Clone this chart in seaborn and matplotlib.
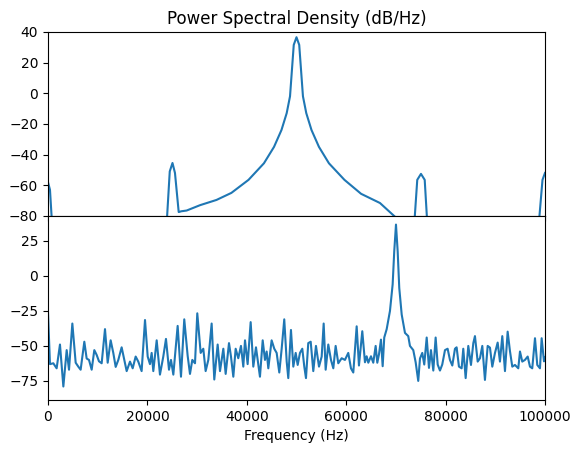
import numpy as np
import pandas as pd
import matplotlib
matplotlib.use('Agg')
import matplotlib.pyplot as plt
import seaborn as sns

# Top panel: clean tone spectrum (-95 = below the axis)
top_freq = [0, 400, 1000, 23700, 24500, 25050, 25550, 26300, 26800, 27900,
            30600, 33900, 36900, 40350, 43450, 45480, 46980, 48030, 48700,
            49450, 50000, 50550, 51300, 51970, 53020, 54520, 56530, 59650, 63000,
            66800, 69800, 70500, 73500, 74300, 75050, 75800, 76500, 98500, 99500, 100000]
top_db = [-58, -63, -95, -95, -51, -45.5, -52, -77.5, -77, -76.5,
          -73, -69.6, -65, -56.5, -45.7, -35, -24, -13, -2,
          31.5, 36.5, 31.5, -2, -13, -24, -35, -45.7, -56.5, -65.6,
          -71.6, -80.5, -95, -95, -56.5, -52.6, -56.5, -95, -95, -56.5, -52]

# Bottom panel: noisy signal spectrum
bot_freq = [0, 400, 1070, 1740, 2410, 3090, 3760, 4230, 4900, 5570,
            6100, 6570, 7310, 7780, 8250, 8790, 9320, 9790, 10260, 10800,
            11470, 12010, 12610, 13140, 13620, 14150, 14820, 15290, 15830, 16500,
            17040, 17640, 18170, 18840, 19520,
            20060, 20520, 20860, 21190, 21870, 22530, 23200, 23740, 24350, 24750,
            25220, 25550, 26090, 26760, 27420, 28100, 28570, 29040, 29580, 30040,
            30720, 31250, 31720, 32260, 32930, 33460, 34140, 34610, 35280, 35750,
            36420, 36820, 37290, 37760, 38290, 38830, 39300, 39640,
            40170, 40780, 41310, 41850, 42190, 42650, 43200, 43660, 44000, 44330,
            45000, 45530, 46010, 46540, 47020, 47540, 48030, 48350, 48890, 49360,
            49840, 50240, 50700, 51170, 51570, 51910, 52370, 52860, 53380, 53920,
            54530, 55070, 55470, 55870, 56400, 56940, 57410, 57880, 58410, 59090,
            59750, 60420,
            60960, 61430, 62110, 62570, 63240, 63780, 64120, 64450, 64990, 65450,
            65930, 66260, 66600, 67000, 67340, 67660, 68150, 68810, 69350, 69670,
            70020, 70360, 70680, 71170, 71830, 72490, 72830, 73500, 73980, 74500,
            74850, 75310, 75710, 76200, 76660, 77060, 77530, 78000, 78410, 78870,
            79330, 79880,
            80410, 80880, 81350, 81890, 82220, 82690, 83230, 83560, 84040, 84570,
            85110, 85580, 85910, 86460, 86920, 87390, 87920, 88470, 88930, 89400,
            89940, 90480, 90940, 91410, 91950, 92490, 92950, 93420, 93960, 94630,
            94970, 95430, 95970, 96520, 96980, 97440, 97990, 98450, 98990, 99330,
            99800, 100000]
bot_db = [-26, -63, -62.4, -66, -49, -79, -53, -67, -34, -62,
          -64.8, -67, -47, -59, -60, -67, -53, -56.4, -61, -62.4,
          -38, -62, -46, -55, -65, -60, -51, -58.8, -68, -61.2,
          -66, -57.6, -61.2, -68, -31.5,
          -57.6, -63, -55, -68, -46, -70.5, -57.6, -45, -67, -60,
          -70.5, -57.6, -35.7, -72, -31, -57, -70, -60, -62.4, -26.7,
          -55, -52, -68, -60, -34, -74, -49, -68, -52, -70,
          -48, -57.6, -72, -52, -58.8, -50, -64.8, -46,
          -63, -33, -64.8, -51, -60, -72, -46, -60, -54, -66,
          -46, -52, -55, -69, -52, -31, -61.2, -73, -38.6, -64.8,
          -55, -63.6, -55, -52, -64.8, -73, -48, -47, -68, -50,
          -64.8, -57.6, -34, -67, -49, -60, -66, -50, -62.4, -58.8,
          -60, -55,
          -66, -69, -36, -64, -39.5, -61.7, -57.4, -62, -57.4, -62,
          -50, -62, -56, -45.5, -64.5, -44, -38, -25, -6, 17.6,
          36.7, 17.6, -8.6, -27.6, -40.7, -43, -50, -53, -61.7, -75,
          -59, -55, -63.3, -44, -65.7, -53, -67.6, -44, -63.3, -67.6,
          -63.3, -53,
          -52, -60, -64, -52, -51, -64.8, -66, -52, -73, -50,
          -63.6, -48, -43, -61.2, -58.8, -50, -74.3, -50, -51.2, -64.8,
          -55, -47.6, -61.2, -43, -68, -39.8, -53.6, -64.8, -63.6, -66,
          -54, -61.2, -60, -57.6, -64.8, -66, -44.5, -63.6, -66, -44.5,
          -61, -58]

top_df = pd.DataFrame({'freq': top_freq, 'db': top_db})
bot_df = pd.DataFrame({'freq': bot_freq, 'db': bot_db})

fig, (ax0, ax1) = plt.subplots(2, 1, sharex=True, figsize=(5.81, 4.55), dpi=100)
fig.subplots_adjust(left=0.0826, right=0.938, top=0.93, bottom=0.121, hspace=0)

sns.lineplot(data=top_df, x='freq', y='db', ax=ax0, color='#1f77b4', sort=False, linewidth=1.5)
ax0.set_ylim(-80, 40)
ax0.set_yticks([40, 20, 0, -20, -40, -60, -80])
ax0.set_title('Power Spectral Density (dB/Hz)')
ax0.set_xlabel('')
ax0.set_ylabel('')

sns.lineplot(data=bot_df, x='freq', y='db', ax=ax1, color='#1f77b4', sort=False, linewidth=1.5)
ax1.set_ylim(-88.6, 42.9)
ax1.set_yticks([25, 0, -25, -50, -75])
ax1.set_xlim(0, 100000)
ax1.set_xticks([0, 20000, 40000, 60000, 80000, 100000])
ax1.set_xlabel('Frequency (Hz)')
ax1.set_ylabel('')

plt.savefig('out.png', dpi=100)
